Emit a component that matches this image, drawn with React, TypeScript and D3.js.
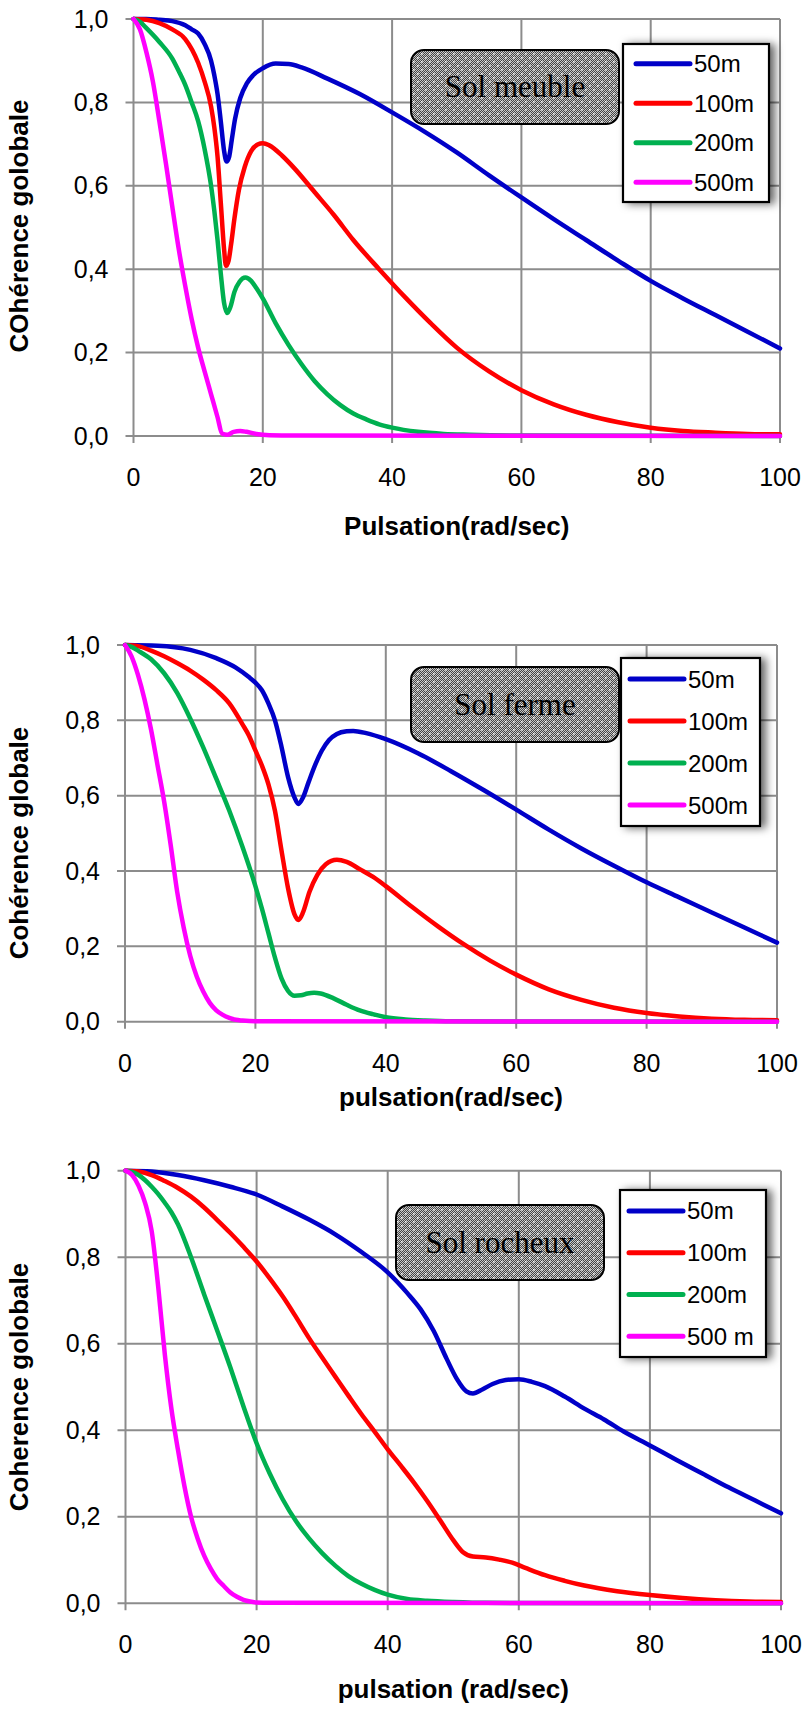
import React from "react";
import * as d3 from "d3";

// pulsation (rad/sec) vs coherence
const meuble50 = [[0,1],[2,1],[4,0.998],[6,0.995],[8,0.985],[9,0.975],[10,0.965],[11,0.94],[12,0.9],[12.5,0.865],[13,0.82],[13.5,0.755],[14,0.685],[14.4,0.658],[14.8,0.67],[15.2,0.71],[15.7,0.76],[16.5,0.81],[17.5,0.845],[18.5,0.865],[20,0.882],[22,0.893],[24,0.892],[26,0.884],[30,0.857],[35,0.82],[40,0.776],[45,0.73],[50,0.68],[55,0.625],[60,0.572],[65,0.52],[70,0.47],[75,0.42],[80,0.372],[85,0.33],[90,0.29],[95,0.25],[100,0.21]];
const meuble100 = [[0,1],[2,0.998],[4,0.99],[6,0.975],[8,0.952],[10,0.895],[11,0.85],[12,0.79],[12.5,0.74],[13,0.67],[13.5,0.56],[14,0.45],[14.3,0.408],[14.7,0.42],[15.1,0.46],[15.6,0.52],[16.3,0.59],[17.2,0.645],[18.2,0.683],[19.2,0.699],[20,0.702],[21,0.697],[23,0.672],[25,0.64],[28,0.585],[31,0.53],[34,0.47],[38,0.4],[42,0.333],[46,0.27],[50,0.212],[55,0.155],[60,0.11],[65,0.076],[70,0.051],[75,0.033],[80,0.02],[85,0.012],[90,0.008],[95,0.005],[100,0.004]];
const meuble200 = [[0,1],[1,0.993],[2,0.978],[4,0.945],[6,0.905],[7,0.875],[8,0.842],[9,0.8],[10,0.755],[11,0.688],[12,0.6],[12.5,0.54],[13,0.47],[13.5,0.39],[14,0.32],[14.5,0.295],[15,0.31],[15.6,0.345],[16.4,0.37],[17.3,0.38],[18.2,0.372],[19,0.355],[20,0.33],[22,0.27],[24,0.218],[26,0.172],[28,0.132],[30,0.1],[32,0.074],[34,0.054],[36,0.04],[38,0.028],[40,0.02],[44,0.01],[48,0.005],[52,0.003],[60,0.001],[100,0]];
const meuble500 = [[0,1],[1,0.975],[2,0.92],[3,0.85],[4,0.755],[5,0.655],[6,0.55],[7,0.448],[8,0.36],[9,0.28],[10,0.212],[11,0.155],[12,0.1],[13,0.045],[13.7,0.006],[14.5,0.003],[15.5,0.01],[16.5,0.012],[17.5,0.01],[19,0.005],[21,0.002],[25,0.001],[100,0]];

const ferme50 = [[0,1],[5,0.998],[10,0.987],[14,0.965],[17,0.94],[19,0.915],[20,0.9],[21,0.88],[22,0.845],[23,0.8],[24,0.73],[25,0.65],[26,0.595],[26.6,0.578],[27.3,0.595],[28.2,0.638],[29.2,0.683],[30.2,0.72],[31.3,0.748],[32.5,0.764],[34,0.771],[35,0.772],[37,0.766],[40,0.75],[45,0.712],[50,0.665],[55,0.615],[60,0.563],[65,0.51],[70,0.46],[75,0.414],[80,0.37],[85,0.33],[90,0.29],[95,0.25],[100,0.21]];
const ferme100 = [[0,1],[2,0.997],[4,0.985],[6,0.97],[8,0.952],[10,0.932],[12,0.908],[14,0.88],[16,0.845],[18,0.79],[19,0.76],[20,0.72],[21,0.68],[22,0.63],[23,0.56],[24,0.455],[25,0.355],[26,0.285],[26.6,0.27],[27.3,0.29],[28.3,0.345],[29.5,0.39],[30.8,0.418],[32.5,0.43],[34,0.424],[36,0.405],[38,0.385],[40,0.36],[44,0.305],[48,0.253],[52,0.205],[56,0.162],[60,0.125],[65,0.086],[70,0.058],[75,0.037],[80,0.023],[85,0.014],[90,0.008],[95,0.005],[100,0.004]];
const ferme200 = [[0,1],[1,0.995],[2,0.985],[4,0.962],[6,0.925],[8,0.873],[10,0.805],[12,0.728],[14,0.645],[16,0.56],[18,0.465],[20,0.36],[21,0.3],[22,0.235],[23,0.17],[24,0.115],[25,0.082],[26,0.069],[27,0.07],[28,0.075],[29,0.077],[30,0.075],[32,0.062],[34,0.045],[36,0.03],[38,0.02],[40,0.012],[43,0.006],[46,0.003],[50,0.001],[100,0]];
const ferme500 = [[0,1],[1,0.97],[2,0.92],[3,0.855],[4,0.775],[5,0.68],[6,0.585],[7,0.47],[8,0.345],[9,0.25],[10,0.175],[11,0.12],[12,0.08],[13,0.05],[14,0.03],[15,0.018],[16,0.01],[17,0.005],[18,0.003],[20,0.001],[100,0]];

const rocheux50 = [[0,1],[4,0.998],[8,0.99],[12,0.978],[16,0.963],[20,0.945],[24,0.917],[28,0.887],[32,0.853],[36,0.812],[40,0.765],[43,0.717],[45,0.68],[47,0.63],[49,0.565],[50.5,0.52],[52,0.49],[53,0.485],[54.5,0.495],[56,0.507],[58,0.516],[60,0.518],[62,0.512],[64,0.502],[67,0.478],[70,0.45],[73,0.425],[76,0.397],[80,0.365],[84,0.332],[88,0.3],[92,0.268],[96,0.238],[100,0.208]];
const rocheux100 = [[0,1],[2,0.998],[4,0.99],[6,0.976],[8,0.96],[10,0.94],[12,0.915],[14,0.886],[16,0.856],[18,0.824],[20,0.79],[22,0.751],[24,0.709],[26,0.662],[28,0.613],[30,0.568],[32,0.524],[34,0.48],[36,0.437],[38,0.397],[40,0.356],[42,0.318],[44,0.279],[46,0.237],[48,0.192],[50,0.146],[51.5,0.118],[53,0.108],[55,0.106],[57,0.101],[59,0.094],[61,0.082],[64,0.065],[67,0.052],[70,0.041],[75,0.028],[80,0.019],[85,0.012],[90,0.007],[95,0.004],[100,0.003]];
const rocheux200 = [[0,1],[1,0.997],[2,0.99],[3,0.978],[4,0.963],[5,0.946],[6,0.926],[7,0.904],[8,0.876],[10,0.8],[12,0.714],[14,0.63],[16,0.545],[18,0.455],[20,0.37],[22,0.3],[24,0.24],[26,0.19],[28,0.15],[30,0.116],[32,0.087],[34,0.063],[36,0.045],[38,0.031],[40,0.02],[43,0.01],[46,0.006],[50,0.003],[55,0.001],[100,0]];
const rocheux500 = [[0,1],[1,0.99],[2,0.965],[3,0.925],[4,0.86],[5,0.73],[6,0.575],[7,0.45],[8,0.355],[9,0.27],[10,0.2],[11,0.15],[12,0.11],[13,0.08],[14,0.056],[15,0.04],[16,0.025],[17,0.015],[18,0.008],[19,0.004],[20,0.002],[22,0.001],[100,0]];

const colors = ["#0000c8", "#ff0000", "#00b050", "#ff00ff"];
const legendLabels = ["50m", "100m", "200m", "500m"];
const legendLabelsRocheux = ["50m", "100m", "200m", "500 m"];
const xTicks = [0, 20, 40, 60, 80, 100];
const yTicks = [0, 0.2, 0.4, 0.6, 0.8, 1.0];

const FONT = "'Liberation Sans', Arial, sans-serif";
const GRID = "#8c8c8c";

const panels = [
  {
    series: [meuble50, meuble100, meuble200, meuble500], labels: legendLabels,
    yLabel: "COhérence golobale", xLabel: "Pulsation(rad/sec)", note: "Sol meuble",
    plot: { left: 133.5, right: 780, top: 19, bottom: 436 },
    yLabelY: 226, xLabelY: 535,
    noteBox: { x: 411, y: 50, w: 208, h: 74 },
    legendBox: { x: 623, y: 44, w: 146, h: 158, pad: 13 },
  },
  {
    series: [ferme50, ferme100, ferme200, ferme500], labels: legendLabels,
    yLabel: "Cohérence globale", xLabel: "pulsation(rad/sec)", note: "Sol ferme",
    plot: { left: 125, right: 777, top: 645, bottom: 1021.7 },
    yLabelY: 843, xLabelY: 1106,
    noteBox: { x: 411, y: 667, w: 208, h: 75 },
    legendBox: { x: 621, y: 658, w: 139, h: 168, pad: 9 },
  },
  {
    series: [rocheux50, rocheux100, rocheux200, rocheux500], labels: legendLabelsRocheux,
    yLabel: "Coherence golobale", xLabel: "pulsation (rad/sec)", note: "Sol rocheux",
    plot: { left: 125.5, right: 781, top: 1170.7, bottom: 1603.3 },
    yLabelY: 1387, xLabelY: 1698,
    noteBox: { x: 396, y: 1205, w: 208, h: 75 },
    legendBox: { x: 620, y: 1190, w: 146, h: 167, pad: 9 },
  },
];

function Panel({ p }: { p: any }) {
  const { left, right, top, bottom } = p.plot;
  const x = d3.scaleLinear().domain([0, 100]).range([left, right]);
  const y = d3.scaleLinear().domain([0, 1]).range([bottom, top]);
  const line = d3.line<number[]>().x(d => x(d[0])).y(d => y(d[1])).curve(d3.curveMonotoneX);
  const lb = p.legendBox;
  const nb = p.noteBox;

  return (
    <g>
      {xTicks.map(t => (
        <g key={"x" + t}>
          <line x1={x(t)} x2={x(t)} y1={top} y2={bottom + 7} stroke={GRID} strokeWidth={2} />
          <text x={x(t)} y={bottom + 50} textAnchor="middle" fontFamily={FONT} fontSize={25}>{t}</text>
        </g>
      ))}
      {yTicks.map(t => (
        <g key={"y" + t}>
          <line x1={left - 8} x2={right} y1={y(t)} y2={y(t)} stroke={GRID} strokeWidth={2} />
          <text x={left - 25} y={y(t) + 8.5} textAnchor="end" fontFamily={FONT} fontSize={25}>
            {d3.format(".1f")(t).replace(".", ",")}
          </text>
        </g>
      ))}

      {p.series.map((s: number[][], i: number) => (
        <path key={i} d={line(s) || ""} fill="none" stroke={colors[i]} strokeWidth={4.5}
          strokeLinejoin="round" strokeLinecap="round" />
      ))}

      <text transform={`translate(28,${p.yLabelY}) rotate(-90)`} textAnchor="middle"
        fontFamily={FONT} fontSize={26} fontWeight="bold">{p.yLabel}</text>
      <text x={(left + right) / 2} y={p.xLabelY} textAnchor="middle"
        fontFamily={FONT} fontSize={26} fontWeight="bold">{p.xLabel}</text>

      <rect x={nb.x} y={nb.y} width={nb.w} height={nb.h} rx={13} fill="url(#dots)" stroke="#000" strokeWidth={2} />
      <text x={nb.x + nb.w / 2} y={nb.y + nb.h / 2 + 10} textAnchor="middle"
        fontFamily="'Liberation Serif', 'Times New Roman', serif" fontSize={31}>{p.note}</text>

      <rect x={lb.x} y={lb.y} width={lb.w} height={lb.h} fill="#fff" stroke="#000" strokeWidth={2.2} filter="url(#shadow)" />
      {p.labels.map((lab: string, i: number) => {
        const ly = lb.y + lb.h * (i + 0.5) / 4;
        return (
          <g key={lab}>
            <line x1={lb.x + lb.pad} x2={lb.x + lb.pad + 54} y1={ly} y2={ly} stroke={colors[i]} strokeWidth={5} strokeLinecap="round" />
            <text x={lb.x + lb.pad + 58} y={ly + 8.5} fontFamily={FONT} fontSize={24}>{lab}</text>
          </g>
        );
      })}
    </g>
  );
}

export default function App() {
  const cells: { x: number; y: number }[] = [];
  for (let i = 0; i < 8; i++) for (let j = 0; j < 8; j++) if ((i + j) % 2 === 0) cells.push({ x: i, y: j });

  return (
    <svg width={808} height={1711} style={{ position: "absolute", left: 0, top: 0, background: "#fff" }}>
      <defs>
        <pattern id="dots" width={8} height={8} patternUnits="userSpaceOnUse">
          <rect width={8} height={8} fill="#444" />
          {cells.map((c, k) => <rect key={k} x={c.x} y={c.y} width={1} height={1} fill="#c8c8c8" />)}
          <rect x={1} y={1} width={1.5} height={1.5} fill="#fff" />
          <rect x={5} y={5} width={1.5} height={1.5} fill="#fff" />
        </pattern>
        <filter id="shadow" x="-20%" y="-20%" width="150%" height="150%">
          <feDropShadow dx={5} dy={1} stdDeviation={4} floodColor="#000" floodOpacity={0.6} />
        </filter>
      </defs>
      <rect width={808} height={1711} fill="#fff" />
      {panels.map((p, i) => <Panel key={i} p={p} />)}
    </svg>
  );
}
